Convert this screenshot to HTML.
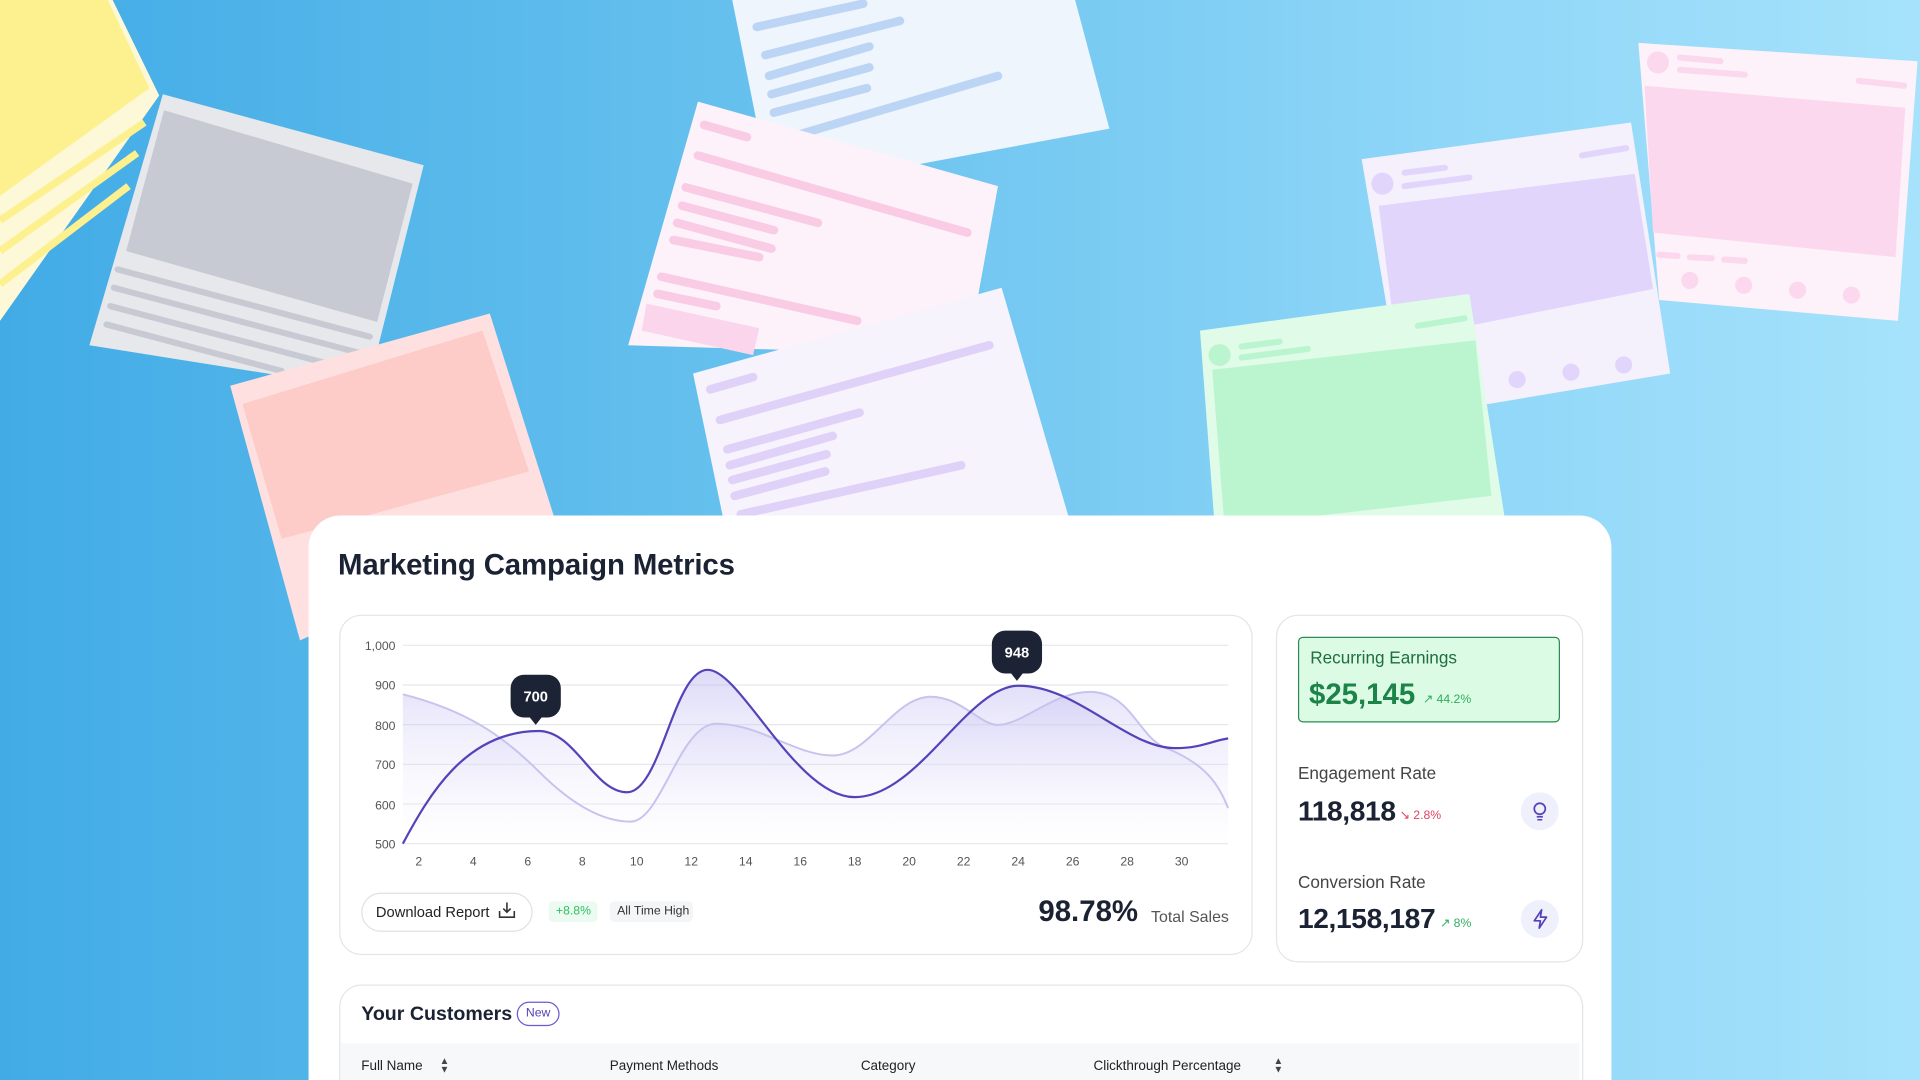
<!DOCTYPE html>
<html><head><meta charset="utf-8"><style>
html,body{margin:0;padding:0;width:1920px;height:1080px;overflow:hidden;}
#s{position:absolute;left:0;top:0;width:1568px;height:882px;transform:scale(1.22449);transform-origin:0 0;background:linear-gradient(90deg,#42abe6 0%,#6cc4ef 45%,#8fd6f8 75%,#a6e2fb 100%);font-family:"Liberation Sans",sans-serif;overflow:hidden;}
.abs{position:absolute;}
.panel{left:252px;top:421px;width:1064px;height:500px;background:#fff;border-radius:26px;}
.card{background:#fff;border:1px solid #e3e5ea;border-radius:18px;}
.t{position:absolute;white-space:nowrap;}
</style></head><body><div id="s">
<svg class="abs" style="left:0;top:0" width="1568" height="882">
<polygon points="0,0 92,0 130,78 0,262" fill="#fdf9d8"/>
<polygon points="0,0 88,0 122,72 0,160" fill="#fdf08e"/>
<g stroke="#fdf08e" stroke-width="6"><line x1="0" y1="180" x2="118" y2="100"/><line x1="0" y1="205" x2="112" y2="125"/><line x1="0" y1="232" x2="105" y2="152"/></g>
<polygon points="133,77 346,135 300,318 73,282" fill="#e6e8ec"/>
<polygon points="134,90 337,150 308,263 103,205" fill="#c7cad3"/>
<g stroke="#c7cad3" stroke-width="5" stroke-linecap="round"><line x1="96" y1="220" x2="302" y2="275"/><line x1="93" y1="235" x2="300" y2="290"/><line x1="90" y1="250" x2="298" y2="305"/><line x1="87" y1="265" x2="230" y2="303"/></g>
<polygon points="188,315 400,256 455,430 245,523" fill="#fde0df"/>
<polygon points="198,330 394,270 432,385 230,440" fill="#fdcbc8"/>
<polygon points="598,0 878,0 906,105 665,150 620,110" fill="#eef5fd"/>
<g stroke="#bcd5f5" stroke-width="7" stroke-linecap="round"><line x1="618" y1="22" x2="705" y2="3"/><line x1="625" y1="45" x2="735" y2="17"/><line x1="628" y1="62" x2="710" y2="38"/><line x1="630" y1="77" x2="710" y2="55"/><line x1="632" y1="92" x2="708" y2="72"/><line x1="652" y1="110" x2="815" y2="62"/></g>
<polygon points="570,83 815,152 790,290 513,282" fill="#fdf2f9"/>
<g stroke="#f9cbe5" stroke-width="7" stroke-linecap="round"><line x1="575" y1="102" x2="610" y2="112"/><line x1="570" y1="127" x2="790" y2="190"/><line x1="560" y1="153" x2="668" y2="182"/><line x1="557" y1="168" x2="632" y2="188"/><line x1="553" y1="182" x2="630" y2="203"/><line x1="550" y1="196" x2="620" y2="210"/><line x1="540" y1="226" x2="700" y2="262"/><line x1="537" y1="240" x2="585" y2="250"/></g>
<polygon points="528,248 620,268 615,290 524,270" fill="#fbd5ec"/>
<polygon points="566,305 818,235 875,430 592,430" fill="#f6f3fd"/>
<g stroke="#dfd1f7" stroke-width="7" stroke-linecap="round"><line x1="580" y1="318" x2="615" y2="308"/><line x1="588" y1="343" x2="808" y2="282"/><line x1="594" y1="367" x2="702" y2="337"/><line x1="596" y1="380" x2="680" y2="356"/><line x1="598" y1="392" x2="675" y2="371"/><line x1="600" y1="405" x2="674" y2="385"/><line x1="605" y1="420" x2="785" y2="380"/></g>
<polygon points="1112,130 1332,100 1364,305 1215,330 1146,330" fill="#f4f1fd"/>
<polygon points="1126,168 1335,142 1350,236 1140,278" fill="#e1d5fb"/>
<circle cx="1129" cy="150" r="9" fill="#e1d5fb"/>
<g stroke="#e1d5fb" stroke-width="5" stroke-linecap="round"><line x1="1147" y1="141" x2="1180" y2="137"/><line x1="1147" y1="152" x2="1200" y2="145"/><line x1="1292" y1="127" x2="1328" y2="121"/></g>
<circle cx="1239" cy="310" r="7" fill="#e1d5fb"/><circle cx="1283" cy="304" r="7" fill="#e1d5fb"/><circle cx="1326" cy="298" r="7" fill="#e1d5fb"/>
<polygon points="1338,35 1566,50 1550,262 1355,245" fill="#fdf2f9"/>
<polygon points="1343,70 1556,88 1548,210 1350,190" fill="#fcd8ef"/>
<circle cx="1354" cy="51" r="9" fill="#fcd8ef"/>
<g stroke="#fcd8ef" stroke-width="5" stroke-linecap="round"><line x1="1372" y1="47" x2="1405" y2="50"/><line x1="1372" y1="57" x2="1425" y2="61"/><line x1="1518" y1="66" x2="1555" y2="70"/><line x1="1355" y1="208" x2="1370" y2="209"/><line x1="1380" y1="210" x2="1398" y2="211"/><line x1="1408" y1="212" x2="1425" y2="213"/></g>
<circle cx="1380" cy="229" r="7" fill="#fcd8ef"/><circle cx="1424" cy="233" r="7" fill="#fcd8ef"/><circle cx="1468" cy="237" r="7" fill="#fcd8ef"/><circle cx="1512" cy="241" r="7" fill="#fcd8ef"/>
<polygon points="980,270 1200,240 1230,430 992,430" fill="#e0fbe8"/>
<polygon points="990,302 1205,278 1218,405 1000,430" fill="#bbf5d0"/>
<circle cx="996" cy="290" r="9" fill="#bbf5d0"/>
<g stroke="#bbf5d0" stroke-width="5" stroke-linecap="round"><line x1="1014" y1="283" x2="1045" y2="279"/><line x1="1014" y1="292" x2="1068" y2="285"/><line x1="1158" y1="266" x2="1196" y2="260"/></g>
</svg>

<div class="abs panel"></div>
<div class="t" style="left:276px;top:448px;font-size:24px;font-weight:bold;color:#1a2233;letter-spacing:-0.1px">Marketing Campaign Metrics</div>

<div class="abs card" style="left:277px;top:502px;width:744px;height:276px"></div>
<svg class="abs" style="left:0;top:0" width="1568" height="882">
<defs><linearGradient id="g" x1="0" y1="0" x2="0" y2="1"><stop offset="0" stop-color="#b9b2f0" stop-opacity="0.7"/><stop offset="1" stop-color="#ffffff" stop-opacity="0.2"/></linearGradient></defs>
<g stroke="#e6e7ec" stroke-width="1"><line x1="329" y1="527" x2="1003" y2="527"/><line x1="329" y1="559.4" x2="1003" y2="559.4"/><line x1="329" y1="591.8" x2="1003" y2="591.8"/><line x1="329" y1="624.2" x2="1003" y2="624.2"/><line x1="329" y1="656.6" x2="1003" y2="656.6"/><line x1="329" y1="689" x2="1003" y2="689"/></g>
<path d="M329,567 C380,580 410,600 440,630 C470,660 495,671 515,671 C540,671 555,591 585,591 C620,591 650,617 680,617 C710,617 730,569 760,569 C785,569 800,592 815,592 C835,592 860,565 890,565 C925,565 930,605 955,612 C985,625 995,640 1003,660 L1003,689 L329,689Z" fill="url(#g)" opacity="0.5"/>
<path d="M329,689 C350,650 380,597 440,597 C470,597 485,647 512,647 C540,647 550,547 578,547 C605,547 650,651 698,651 C750,651 790,560 832,560 C880,560 920,611 960,611 C980,611 990,605 1003,603 L1003,689Z" fill="url(#g)" opacity="0.7"/>
<path d="M329,567 C380,580 410,600 440,630 C470,660 495,671 515,671 C540,671 555,591 585,591 C620,591 650,617 680,617 C710,617 730,569 760,569 C785,569 800,592 815,592 C835,592 860,565 890,565 C925,565 930,605 955,612 C985,625 995,640 1003,660" fill="none" stroke="#c7c3ee" stroke-width="1.6"/>
<path d="M329,689 C350,650 380,597 440,597 C470,597 485,647 512,647 C540,647 550,547 578,547 C605,547 650,651 698,651 C750,651 790,560 832,560 C880,560 920,611 960,611 C980,611 990,605 1003,603" fill="none" stroke="#5443b8" stroke-width="1.8"/>
<g font-family="Liberation Sans" font-size="10" fill="#555" text-anchor="end"><text x="323" y="531">1,000</text><text x="323" y="563">900</text><text x="323" y="596">800</text><text x="323" y="628">700</text><text x="323" y="661">600</text><text x="323" y="693">500</text></g>
<g font-family="Liberation Sans" font-size="10" fill="#555" text-anchor="middle"><text x="342" y="707">2</text><text x="386.5" y="707">4</text><text x="431" y="707">6</text><text x="475.5" y="707">8</text><text x="520" y="707">10</text><text x="564.5" y="707">12</text><text x="609" y="707">14</text><text x="653.5" y="707">16</text><text x="698" y="707">18</text><text x="742.5" y="707">20</text><text x="787" y="707">22</text><text x="831.5" y="707">24</text><text x="876" y="707">26</text><text x="920.5" y="707">28</text><text x="965" y="707">30</text></g>
<rect x="417" y="551" width="41" height="35" rx="11" fill="#1c2335"/><polygon points="432,585 443,585 437.5,592" fill="#1c2335"/>
<text x="437.5" y="573" font-family="Liberation Sans" font-size="12" font-weight="bold" fill="#fff" text-anchor="middle">700</text>
<rect x="810" y="515" width="41" height="35" rx="11" fill="#1c2335"/><polygon points="825,549 836,549 830.5,556" fill="#1c2335"/>
<text x="830.5" y="537" font-family="Liberation Sans" font-size="12" font-weight="bold" fill="#fff" text-anchor="middle">948</text>
</svg>

<div class="abs" style="left:295px;top:729px;width:138px;height:30px;border:1px solid #dfe1e6;border-radius:16px"></div>
<div class="t" style="left:307px;top:738px;font-size:12px;color:#222">Download Report</div>
<svg class="abs" style="left:406px;top:736px" width="16" height="16"><path d="M8 1v8M5 6l3 3 3-3M2 8v5h12V8" fill="none" stroke="#333" stroke-width="1.3"/></svg>
<div class="abs" style="left:448px;top:736px;width:40px;height:17px;background:#ecfbf1;border-radius:4px"></div>
<div class="t" style="left:454px;top:739px;font-size:10px;color:#2fbf5f">+8.8%</div>
<div class="abs" style="left:498px;top:736px;width:68px;height:17px;background:#f4f5f7;border-radius:4px"></div>
<div class="t" style="left:504px;top:739px;font-size:10px;color:#333">All Time High</div>
<div class="t" style="left:848px;top:731px;font-size:24px;color:#1a2233;font-weight:bold">98.78%</div>
<div class="t" style="left:940px;top:741px;font-size:13px;color:#555">Total Sales</div>

<div class="abs card" style="left:1042px;top:502px;width:249px;height:282px"></div>
<div class="abs" style="left:1060px;top:520px;width:212px;height:68px;background:#dcfbe5;border:1px solid #2d8a52;border-radius:4px"></div>
<div class="t" style="left:1070px;top:529px;font-size:14px;color:#1e6e3e">Recurring Earnings</div>
<div class="t" style="left:1069px;top:554px;font-size:24px;font-weight:bold;color:#1c8448">$25,145</div>
<div class="t" style="left:1162px;top:566px;font-size:10px;color:#2fae5d">↗ 44.2%</div>
<div class="t" style="left:1060px;top:623px;font-size:14px;color:#444">Engagement Rate</div>
<div class="t" style="left:1060px;top:649px;font-size:23px;font-weight:bold;color:#1a2233;letter-spacing:-0.3px">118,818</div>
<div class="t" style="left:1143px;top:661px;font-size:10px;color:#e0445e">↘ 2.8%</div>
<div class="abs" style="left:1242px;top:647px;width:31px;height:31px;border-radius:50%;background:#eef0fb"></div>
<svg class="abs" style="left:1250px;top:654px" width="15" height="17"><circle cx="7.5" cy="6.5" r="4.5" fill="none" stroke="#5443b8" stroke-width="1.4"/><line x1="5" y1="13" x2="10" y2="13" stroke="#5443b8" stroke-width="1.4"/><line x1="5.5" y1="15.5" x2="9.5" y2="15.5" stroke="#5443b8" stroke-width="1.2"/></svg>
<div class="t" style="left:1060px;top:712px;font-size:14px;color:#444">Conversion Rate</div>
<div class="t" style="left:1060px;top:737px;font-size:23px;font-weight:bold;color:#1a2233;letter-spacing:-0.3px">12,158,187</div>
<div class="t" style="left:1176px;top:749px;font-size:10px;color:#2fae5d">↗ 8%</div>
<div class="abs" style="left:1242px;top:735px;width:31px;height:31px;border-radius:50%;background:#eef0fb"></div>
<svg class="abs" style="left:1250px;top:742px" width="16" height="17"><path d="M9 1L3 10h5l-1 6 6-9H8z" fill="none" stroke="#5443b8" stroke-width="1.4" stroke-linejoin="round"/></svg>

<div class="abs card" style="left:277px;top:804px;width:1014px;height:120px"></div>
<div class="t" style="left:295px;top:820px;font-size:16px;font-weight:bold;color:#1a2233">Your Customers</div>
<div class="abs" style="left:422px;top:818px;width:33px;height:18px;border:1px solid #6b5bd0;border-radius:10px;font-size:10px;color:#5443b8;line-height:18px;text-align:center">New</div>
<div class="abs" style="left:278px;top:852px;width:1012px;height:40px;background:#f7f8fa"></div>
<div class="t" style="left:295px;top:865px;font-size:11px;color:#222">Full Name</div>
<div class="t" style="left:359px;top:863px;font-size:8px;color:#444;line-height:7px">▲<br>▼</div>
<div class="t" style="left:498px;top:865px;font-size:11px;color:#222">Payment Methods</div>
<div class="t" style="left:703px;top:865px;font-size:11px;color:#222">Category</div>
<div class="t" style="left:893px;top:865px;font-size:11px;color:#222">Clickthrough Percentage</div>
<div class="t" style="left:1040px;top:863px;font-size:8px;color:#444;line-height:7px">▲<br>▼</div>
</div></body></html>
